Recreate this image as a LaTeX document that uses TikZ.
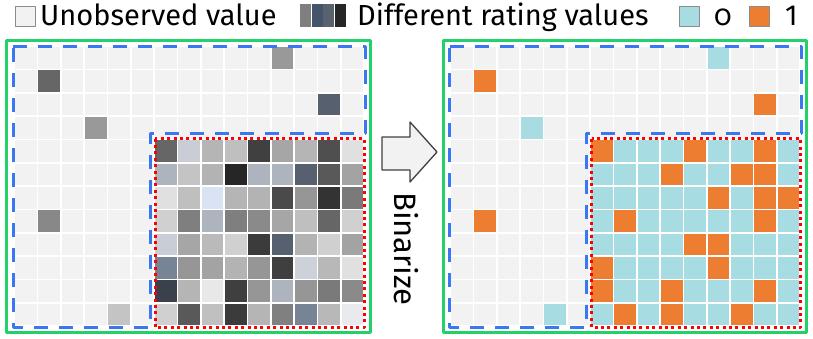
\documentclass[tikz,border=0pt]{standalone}
\usepackage{fontspec}
\setmainfont{Fira Sans}
\definecolor{unobs}{HTML}{F2F2F2}
\definecolor{bin0}{HTML}{A8DCE3}
\definecolor{bin1}{HTML}{ED7D31}
\definecolor{framegreen}{HTML}{22D168}
\definecolor{dashblue}{HTML}{3A78F2}
\definecolor{dotred}{HTML}{FF0000}
\definecolor{arrowgray}{HTML}{404040}
\begin{document}
\begin{tikzpicture}[x=1pt, y=-1pt, line join=round,
		keybox/.style={draw=black!45, line width=0.8pt, minimum size=20pt, inner sep=0pt, anchor=north west},
		legtext/.style={inner sep=0pt, anchor=base west, font=\fontsize{29}{33}\selectfont},
		frame/.style={framegreen, line width=3pt},
		observed/.style={dashblue, line width=3pt, dash pattern=on 14pt off 11pt},
		subblock/.style={dotred, line width=3pt, dash pattern=on 3pt off 3.4pt}]
	\useasboundingbox (0,0) rectangle (813,338);
	% legend
	\node[keybox, fill=unobs] (keyunobs) at (15,6) {};
	\node[legtext] (txtunobs) at (40,25) {Unobserved value};
	\foreach \hex [count=\i from 0] in {7F7F7F,44546A,5A6270,262626} {
		\definecolor{keyc}{HTML}{\hex}
		\node[fill=keyc, minimum width=10.7pt, minimum height=23pt, inner sep=0pt, anchor=north west] (keyrate\i) at ({300+\i*11.6},3.3) {};
	}
	\node[legtext] (txtrate) at (357,25) {Different rating values};
	\node[keybox, fill=bin0] (keyzero) at (679,6) {};
	\node[legtext] (txtzero) at (714,25) {\addfontfeature{Numbers=OldStyle}0};
	\node[keybox, fill=bin1] (keyone) at (749,6) {};
	\node[legtext] (txtone) at (785,25) {1};
	% empty grids
	\foreach \p in {0,436}
		\foreach \r in {0,...,11}
			\foreach \c in {0,...,14}
				\fill[unobs] ({\p+15+\c*70/3},{47+\r*70/3}) rectangle ++(21.7,21.7);
	% ratings outside the block
	\foreach \c/\r/\hex/\b in {11/0/999999/0, 1/1/666666/1, 13/2/56606E/1, 3/3/999999/0, 1/7/888888/1, 4/11/C4C4C4/0} {
		\definecolor{cellc}{HTML}{\hex}
		\fill[cellc] ({15+\c*70/3},{47+\r*70/3}) rectangle ++(21.7,21.7);
		\fill[bin\b] ({451+\c*70/3},{47+\r*70/3}) rectangle ++(21.7,21.7);
	}
	% dense block, ratings
	\foreach \r/\row in {
			4/{666666,C9CED6,B5B5B5,BFBFBF,404040,A6A6A6,B5B5B5,4F4F4F,E0E0E0},
			5/{ADB4BD,C4C4C4,B3B3B3,262626,ADB4BD,ADB4BD,56606E,595959,A3A3A3},
			6/{E0E0E0,BFBFBF,DAE3F3,B5B5B5,B3B3B3,4A4A4A,969696,333333,7A7A7A},
			7/{D0D0D0,7F7F7F,ADB4BD,7F7F7F,8A8A8A,A6A6A6,BFBFBF,666666,D0D0D0},
			8/{C9CED6,A6A6A6,BABABA,D0D0D0,3B3B3B,56606E,B3B3B3,D0D0D0,A3A3A3},
			9/{778495,969696,A3A3A3,B3B3B3,969696,3F3F3F,CDD1D9,B8B8B8,E0E0E0},
			10/{3A404C,B5B5B5,E8E8E8,3F3F3F,969696,ADB4BD,969696,7A7A7A,8A8A8A},
			11/{D0D0D0,595959,C0C0C0,3B3B3B,B5B5B5,808080,778495,B8B8B8,E8EAEE}}
		\foreach \hex [count=\c from 6] in \row {
			\definecolor{cellc}{HTML}{\hex}
			\fill[cellc] ({15+\c*70/3},{47+\r*70/3}) rectangle ++(21.7,21.7);
		}
	% dense block, binarized
	\foreach \r/\row in {
			4/{1,0,0,0,1,0,0,1,0},
			5/{0,0,0,1,0,0,1,1,0},
			6/{0,0,0,0,0,1,0,1,1},
			7/{0,1,0,0,0,0,0,1,0},
			8/{0,0,0,0,1,1,0,0,0},
			9/{1,0,0,0,0,1,0,0,0},
			10/{1,0,0,1,0,0,0,1,0},
			11/{0,1,0,1,0,0,1,0,0}}
		\foreach \b [count=\c from 6] in \row
			\fill[bin\b] ({451+\c*70/3},{47+\r*70/3}) rectangle ++(21.7,21.7);
	% frames
	\foreach \p in {0,436.5} {
		\draw[frame] (\p+6.5,40.5) rectangle (\p+370,332);
		\draw[observed] (\p+13,46.7) -- (\p+365,46.7) -- (\p+365,133.5) -- (\p+150,133.5) -- (\p+150,327.5) -- (\p+13,327.5) -- cycle;
		\draw[subblock] (\p+155,138.5) rectangle (\p+364,327.5);
	}
	% arrow
	\draw[arrowgray, fill=unobs, line width=1.3pt] (382,137) -- (410,137) -- (410,122) -- (437,152) -- (410,182) -- (410,170) -- (382,170) -- cycle;
	\node[rotate=-90, anchor=base, inner sep=0pt, font=\fontsize{31}{35}\selectfont] (binarize) at (394,249) {Binarize};
\end{tikzpicture}
\end{document}
